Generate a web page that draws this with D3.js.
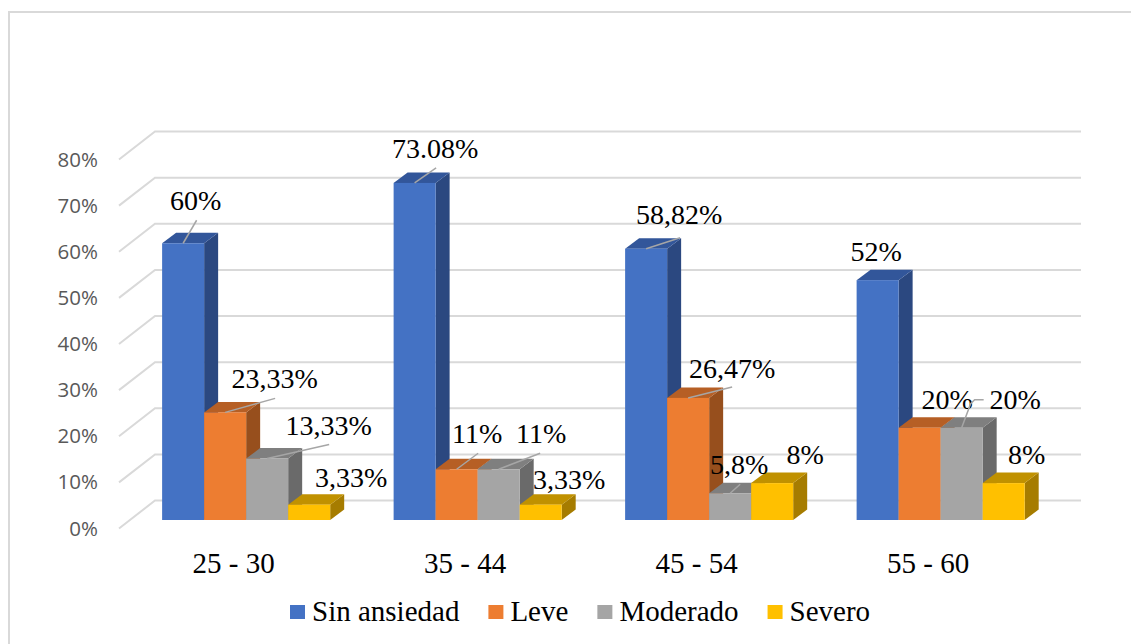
<!DOCTYPE html>
<html>
<head>
<meta charset="utf-8">
<script src="https://cdn.jsdelivr.net/npm/d3@7"></script>
<style>
  html, body { margin: 0; padding: 0; background: #fff; }
  svg { display: block; }
</style>
</head>
<body>
<div id="chart"></div>
<script>
// Anxiety level by age group, as a pseudo-3D clustered column chart.
const ageGroups = ["25 - 30", "35 - 44", "45 - 54", "55 - 60"];
const seriesNames = ["Sin ansiedad", "Leve", "Moderado", "Severo"];
const sinAnsiedad = [60, 73.08, 58.82, 52];
const leve = [23.33, 11, 26.47, 20];
const moderado = [13.33, 11, 5.8, 20];
const severo = [3.33, 3.33, 8, 8];
const valueLabels = [
  ["60%", "73.08%", "58,82%", "52%"],
  ["23,33%", "11%", "26,47%", "20%"],
  ["13,33%", "11%", "5,8%", "20%"],
  ["3,33%", "3,33%", "8%", "8%"]
];
const yTicks = [0, 10, 20, 30, 40, 50, 60, 70, 80];

const seriesValues = [sinAnsiedad, leve, moderado, severo];
const faceColors = [
  { front: "#4472C4", top: "#32569A", side: "#2B4880" },
  { front: "#ED7D31", top: "#B65F25", side: "#974F1D" },
  { front: "#A5A5A5", top: "#7F7F7F", side: "#6A6A6A" },
  { front: "#FFC000", top: "#C09100", side: "#A67C00" }
];

// Hand-placed data label positions, relative to the centre of each column's
// top front edge: [label dx, label dy, then the leader line's bend points].
const labelPlacement = [
  [[12.5, -33, [13.5, -23]], [20.5, -25, [21.5, -15]], [33, -25, [34, -11]], [-1.5, -19]],
  [[49.5, -24, [50, -14]], [20.5, -26, [21.5, -16]], [44, -20, [44, -11]], [27.5, -18.5]],
  [[61.5, -24, [62, -14]], [42.5, -26, [41.5, -16]], [9, -19, [10, -9]], [53.5, -18.5, [9, -24], [13, -28], [22, -28]]],
  [[42, -18], [28.5, -16], [33, -19], [23, -19]]
];

const width = 1131, height = 644;
const svg = d3.select("#chart").append("svg")
  .attr("width", width).attr("height", height);

// Chart area frame: only the top and left edges fall inside the page.
svg.append("path")
  .attr("d", d3.line()([[9, height], [9, 12], [width, 12]]))
  .attr("fill", "none").attr("stroke", "#D9D9D9").attr("stroke-width", 2);

// Oblique projection: the floor recedes up and to the right.
const floorLeft = 119, floorRight = 1045;
const wallDepth = { x: 36, y: -28 };
const colDepth = { x: 14, y: -10.5 };
const colInset = { x: 11.4, y: -8.5 };

const y = d3.scaleLinear().domain([0, 80]).range([528.5, 159.5]);
const groupX = d3.scaleBand().domain(ageGroups)
  .range([floorLeft + colInset.x, floorRight + colInset.x])
  .paddingInner(0.274).paddingOuter(0.137);
const barX = d3.scaleBand().domain(seriesNames)
  .range([0, groupX.bandwidth()]);

// Gridlines run along the side wall, then across the back wall.
svg.append("g").selectAll("polyline").data(yTicks).join("polyline")
  .attr("fill", "none")
  .attr("stroke", "#D9D9D9")
  .attr("stroke-width", 2)
  .attr("points", d => [
    [floorLeft, y(d)],
    [floorLeft + wallDepth.x, y(d) + wallDepth.y],
    [floorRight + wallDepth.x, y(d) + wallDepth.y]
  ].join(" "));

// Value axis
const axis = d3.axisLeft(y).tickValues(yTicks).tickSize(0).tickFormat(d => d + "%");
const axisG = svg.append("g").attr("transform", "translate(98,0)").call(axis);
axisG.select(".domain").remove();
axisG.selectAll("text")
  .attr("x", 0)
  .attr("font-family", "'Open Sans', sans-serif")
  .attr("font-size", 20.5)
  .attr("fill", "#595959");

// Columns, drawn left to right so each front face covers its neighbour's side.
const columns = [];
ageGroups.forEach((group, g) => {
  seriesNames.forEach((name, s) => {
    columns.push({ group, name, g, s, value: seriesValues[s][g], label: valueLabels[s][g], place: labelPlacement[s][g] });
  });
});

const colX = d => groupX(d.group) + barX(d.name);
const colTop = d => y(d.value) + colInset.y;
const colBase = colInset.y + y(0);

const colG = svg.append("g").selectAll("g").data(columns).join("g");
colG.append("polygon")
  .attr("fill", d => faceColors[d.s].side)
  .attr("points", d => {
    const r = colX(d) + barX.bandwidth();
    return [[r, colTop(d)], [r + colDepth.x, colTop(d) + colDepth.y],
            [r + colDepth.x, colBase + colDepth.y], [r, colBase]].join(" ");
  });
colG.append("polygon")
  .attr("fill", d => faceColors[d.s].top)
  .attr("points", d => {
    const l = colX(d), r = l + barX.bandwidth();
    return [[l, colTop(d)], [r, colTop(d)],
            [r + colDepth.x, colTop(d) + colDepth.y], [l + colDepth.x, colTop(d) + colDepth.y]].join(" ");
  });
colG.append("rect")
  .attr("fill", d => faceColors[d.s].front)
  .attr("x", colX)
  .attr("y", colTop)
  .attr("width", barX.bandwidth())
  .attr("height", d => colBase - colTop(d));

// Leader lines and data labels sit above every column.
const labelG = svg.append("g").selectAll("g").data(columns).join("g")
  .attr("transform", d => `translate(${colX(d) + barX.bandwidth() / 2},${colTop(d)})`);
labelG.filter(d => d.place.length > 2).append("polyline")
  .attr("fill", "none")
  .attr("stroke", "#A6A6A6")
  .attr("stroke-width", 1.5)
  .attr("points", d => [[0, 0], ...d.place.slice(2)].join(" "));
labelG.append("text")
  .attr("x", d => d.place[0])
  .attr("y", d => d.place[1])
  .attr("text-anchor", "middle")
  .attr("font-family", "'Liberation Serif', serif")
  .attr("font-size", 28)
  .attr("fill", "#000")
  .text(d => d.label);

// Category labels, centred under each group on the front of the floor.
const xAxis = d3.axisBottom(groupX).tickSize(0);
const xAxisG = svg.append("g").attr("transform", "translate(-12.5,0)").call(xAxis);
xAxisG.select(".domain").remove();
xAxisG.selectAll("text")
  .attr("y", 573)
  .attr("dy", 0)
  .attr("font-family", "'Liberation Serif', serif")
  .attr("font-size", 29)
  .attr("fill", "#000");

// Legend, laid out from measured label widths.
const legend = svg.append("g").attr("transform", "translate(290,0)");
let cursor = 0;
seriesNames.forEach((name, s) => {
  const item = legend.append("g").attr("transform", `translate(${cursor},0)`);
  item.append("rect")
    .attr("y", 605).attr("width", 15).attr("height", 14)
    .attr("fill", faceColors[s].front);
  const label = item.append("text")
    .attr("x", 22).attr("y", 621)
    .attr("font-family", "'Liberation Serif', serif")
    .attr("font-size", 29)
    .attr("fill", "#000")
    .text(name);
  cursor += 22 + label.node().getComputedTextLength() + 29;
});
</script>
</body>
</html>
